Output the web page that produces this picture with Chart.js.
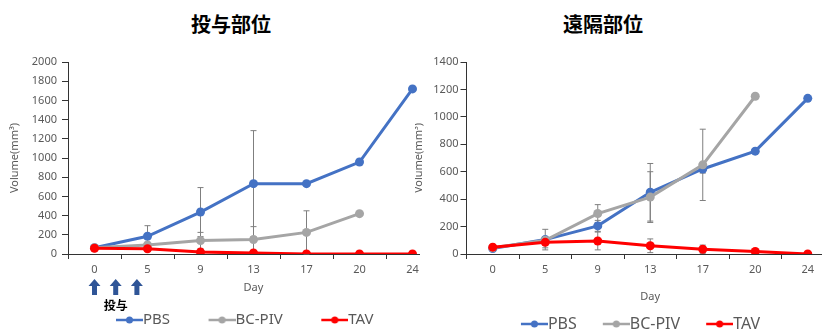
<!DOCTYPE html>
<html>
<head>
<meta charset="utf-8">
<script src="https://cdn.jsdelivr.net/npm/chart.js@4/dist/chart.umd.min.js"></script>
<style>
body { margin: 0; width: 822px; height: 331px; overflow: hidden; background: #fff; position: relative; }
.title { position: absolute; top: 14px; font: bold 20px "Noto Sans CJK JP"; line-height: 20px; transform: translateX(-50%); white-space: nowrap; color: #000; }
#leftBox { position: absolute; left: 0; top: 0; width: 420px; height: 331px; overflow: hidden; }
#left { position: absolute; left: 0; top: 0; }
#right { position: absolute; left: 415px; top: 0; }
</style>
</head>
<body>
<div class="title" id="titleL" style="left:231px"></div>
<div class="title" id="titleR" style="left:603px"></div>
<div id="leftBox"><canvas id="left" width="450" height="331"></canvas></div>
<canvas id="right" width="425" height="331"></canvas>
<script>
// titles of the two panels
const panelTitles = ['投与部位', '遠隔部位'];
const days = ['0', '5', '9', '13', '17', '20', '24'];
const seriesNames = ['PBS', 'BC-PIV', 'TAV'];
const seriesColors = ['#4472C4', '#A5A5A5', '#FF0000'];
const doseDays = [0, 2, 4];
const doseLabel = '投与';

// injection site
const injPBS = [65, 185, 437, 733, 733, 958, 1720];
const injBC = [65, 95, 140, 150, 225, 420, null];
const injTAV = [60, 55, 20, 10, 0, 0, 0];
const injPBSErr = [0, 110, 255, 552, 0, 0, 0];
const injBCErr = [0, 15, 85, 135, 225, 0, 0];
const injTAVErr = [0, 0, 0, 0, 0, 0, 0];

// distant site
const disPBS = [40, 105, 205, 450, 620, 750, 1135];
const disBC = [45, 100, 295, 415, 650, 1150, null];
const disTAV = [50, 85, 95, 60, 35, 18, 0];
const disPBSErr = [0, 75, 40, 210, 30, 0, 0];
const disBCErr = [0, 20, 65, 185, 260, 0, 0];
const disTAVErr = [0, 40, 65, 50, 30, 10, 0];

document.getElementById('titleL').textContent = panelTitles[0];
document.getElementById('titleR').textContent = panelTitles[1];

const textGrey = '#595959';
const axisColor = '#333';

function legendMark(color, w) {
    const c = document.createElement('canvas');
    c.width = w;
    c.height = 12;
    const g = c.getContext('2d');
    g.strokeStyle = color;
    g.lineWidth = 2.5;
    g.beginPath();
    g.moveTo(w - 27, 6);
    g.lineTo(w, 6);
    g.stroke();
    g.fillStyle = color;
    g.beginPath();
    g.arc(w - 13.5, 6, 3.5, 0, Math.PI * 2);
    g.fill();
    return c;
}

// error bars drawn under the lines
const errorBars = {
    id: 'errorBars',
    beforeDatasetsDraw(chart) {
        const ctx = chart.ctx;
        const y = chart.scales.y;
        ctx.save();
        ctx.strokeStyle = '#7F7F7F';
        ctx.lineWidth = 1;
        chart.data.datasets.forEach((ds, i) => {
            const meta = chart.getDatasetMeta(i);
            ds.errs.forEach((e, j) => {
                const v = ds.data[j];
                if (!e || v === null) return;
                const px = meta.data[j].x;
                const top = y.getPixelForValue(v + e);
                const bot = y.getPixelForValue(Math.max(0, v - e));
                ctx.beginPath();
                ctx.moveTo(px, top); ctx.lineTo(px, bot);
                ctx.moveTo(px - 3, top); ctx.lineTo(px + 3, top);
                ctx.moveTo(px - 3, bot); ctx.lineTo(px + 3, bot);
                ctx.stroke();
            });
        });
        ctx.restore();
    }
};

// dosing arrows under the x axis of the first panel
const doseArrows = {
    id: 'doseArrows',
    afterDraw(chart) {
        const x = chart.scales.x;
        const a = chart.chartArea;
        const ctx = chart.ctx;
        const d0 = Number(days[0]), d1 = Number(days[1]);
        const p0 = x.getPixelForValue(0), p1 = x.getPixelForValue(1);
        const xs = doseDays.map(d => p0 + (d - d0) / (d1 - d0) * (p1 - p0));
        const top = a.bottom + 25, bot = a.bottom + 41;
        ctx.save();
        ctx.fillStyle = '#2F5597';
        xs.forEach(px => {
            ctx.beginPath();
            ctx.moveTo(px, top);
            ctx.lineTo(px + 6, top + 7);
            ctx.lineTo(px + 2.5, top + 7);
            ctx.lineTo(px + 2.5, bot);
            ctx.lineTo(px - 2.5, bot);
            ctx.lineTo(px - 2.5, top + 7);
            ctx.lineTo(px - 6, top + 7);
            ctx.closePath();
            ctx.fill();
        });
        ctx.fillStyle = '#000';
        ctx.font = 'bold 12px "Noto Sans CJK JP"';
        ctx.textAlign = 'center';
        ctx.textBaseline = 'middle';
        ctx.fillText(doseLabel, (xs[0] + xs[xs.length - 1]) / 2, a.bottom + 51);
        ctx.restore();
    }
};

function makeChart(id, o) {
    const marks = seriesColors.map(c => legendMark(c, o.markW));
    const datasets = o.series.map((data, i) => ({
        label: seriesNames[i],
        data: data,
        errs: o.errs[i],
        borderColor: seriesColors[i],
        backgroundColor: seriesColors[i],
        borderWidth: 3,
        pointRadius: 4.5,
        pointBorderWidth: 0,
        pointHoverRadius: 4.5,
        tension: 0,
        order: 3 - i
    }));
    return new Chart(document.getElementById(id), {
        type: 'line',
        data: { labels: days, datasets: datasets },
        plugins: o.plugins,
        options: {
            responsive: false,
            animation: false,
            layout: { padding: { left: o.padL, right: o.padR, top: 62, bottom: 0 } },
            plugins: {
                tooltip: { enabled: false },
                legend: {
                    position: 'bottom',
                    maxHeight: o.legendH,
                    labels: {
                        usePointStyle: true,
                        pointStyleWidth: o.markW - o.legendFont,
                        padding: 10,
                        color: textGrey,
                        font: { family: 'Noto Sans', size: o.legendFont },
                        sort: (a, b) => a.datasetIndex - b.datasetIndex,
                        generateLabels(chart) {
                            const items = Chart.defaults.plugins.legend.labels.generateLabels(chart);
                            items.forEach(it => { it.pointStyle = marks[it.datasetIndex]; });
                            return items;
                        }
                    }
                }
            },
            scales: {
                x: {
                    type: 'category',
                    offset: true,
                    grid: { offset: true, drawOnChartArea: false, tickLength: 5, color: axisColor },
                    border: { color: axisColor, width: 1 },
                    ticks: { color: textGrey, font: { family: 'Noto Sans', size: 11 }, padding: 4, maxRotation: 0, autoSkip: false },
                    title: { display: true, text: 'Day', color: textGrey, font: { family: 'Noto Sans', size: 11 }, padding: { top: 0, bottom: o.dayPad } },
                    afterFit(s) { s.height = o.xH; }
                },
                y: {
                    min: 0,
                    max: o.yMax,
                    grid: { drawOnChartArea: false, tickLength: 6, color: axisColor },
                    border: { color: axisColor, width: 1 },
                    ticks: { stepSize: 200, color: textGrey, font: { family: 'Noto Sans', size: 11 }, padding: o.yTickPad, callback: v => String(v) },
                    title: { display: true, text: 'Volume(mm³)', color: textGrey, font: { family: 'Noto Sans', size: 11 }, padding: { top: o.yTitlePad, bottom: 0 } },
                    afterFit(s) { s.width = o.yW; }
                }
            }
        }
    });
}

makeChart('left', {
    series: [injPBS, injBC, injTAV],
    errs: [injPBSErr, injBCErr, injTAVErr],
    yMax: 2000,
    padL: 22, padR: 11, yW: 46, yTitlePad: -13.6, yTickPad: 5,
    xH: 48.5, dayPad: 7.9, legendH: 28.5, legendFont: 15, markW: 63,
    plugins: [errorBars, doseArrows]
});

makeChart('right', {
    series: [disPBS, disBC, disTAV],
    errs: [disPBSErr, disBCErr, disTAVErr],
    yMax: 1400,
    padL: 16, padR: 6, yW: 35.5, yTitlePad: -18.6, yTickPad: 2,
    xH: 52, dayPad: 2.4, legendH: 25, legendFont: 16, markW: 51,
    plugins: [errorBars]
});
</script>
</body>
</html>
